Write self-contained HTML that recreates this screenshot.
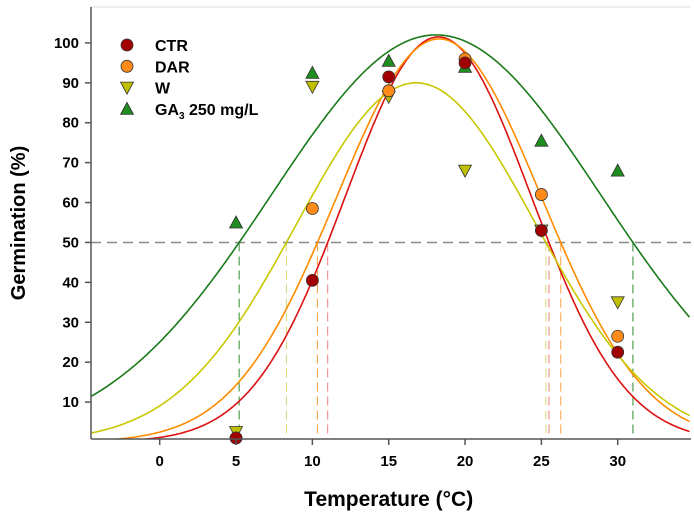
<!DOCTYPE html>
<html><head><meta charset="utf-8"><style>
body{margin:0;background:#fff;font-family:"Liberation Sans",Arial,sans-serif}
svg text{font-family:"Liberation Sans",Arial,sans-serif;font-weight:bold}
</style></head><body>
<svg id="chart" width="694" height="525" xmlns="http://www.w3.org/2000/svg"></svg>
<script>
const temps=[5,10,15,20,25,30];
const ctrVals=[1,40.5,91.5,95,53,22.5];
const darVals=[1,58.5,88,96,62,26.5];
const wVals=[2.5,89,86.5,68,53,35];
const gaVals=[55,92.5,95.5,94,75.5,68];
// gaussian fit params [peak, center, width]
const ctrFit=[101.5,18.25,6.09];
const darFit=[101,18.3,6.72];
const wFit=[90,16.8,7.84];
const gaFit=[102,18.1,10.8];
const xTicks=[0,5,10,15,20,25,30];
const yTicks=[10,20,30,40,50,60,70,80,90,100];
const NS="http://www.w3.org/2000/svg";
const svg=document.getElementById('chart');
const L=91,R=691,T=7,B=439,x0=-4.5,x1=34.8,y0=0.75,y1=109;
const X=v=>L+(v-x0)/(x1-x0)*(R-L);
const Y=v=>B-(v-y0)/(y1-y0)*(B-T);
function el(t,a,p){const e=document.createElementNS(NS,t);for(const k in a)e.setAttribute(k,a[k]);(p||svg).appendChild(e);return e;}
const g=a=>x=>a[0]*Math.exp(-0.5*Math.pow((x-a[1])/a[2],2));
const cross=a=>{const d=a[2]*Math.sqrt(-2*Math.log(50/a[0]));return [a[1]-d,a[1]+d];};
const series=[
 {name:'ctr',vals:ctrVals,fit:ctrFit,col:'#dd1111',fill:'#a00000',dash:'#f08080',m:'c'},
 {name:'dar',vals:darVals,fit:darFit,col:'#ff8c00',fill:'#ff8c1a',dash:'#ffa040',m:'c'},
 {name:'w',vals:wVals,fit:wFit,col:'#c8c800',fill:'#c0c000',dash:'#d8d870',m:'d'},
 {name:'ga3',vals:gaVals,fit:gaFit,col:'#1a7a1a',fill:'#1e8c1e',dash:'#2e8b2e',m:'u'}];
el('line',{x1:L,x2:R,y1:T,y2:T,stroke:'#ddd','stroke-width':1});
let h=el('line',{x1:L,x2:R,y1:Y(50),y2:Y(50),stroke:'#888','stroke-width':1.5,'stroke-dasharray':'10,6'});


series.forEach(s=>{
 cross(s.fit).forEach(c=>{
  const l=el('line',{x1:X(c),x2:X(c),y1:Y(50),y2:B,stroke:s.dash,'stroke-width':1,'stroke-dasharray':'9,5'});
  
  
 });
});
const clip=el('clipPath',{id:'pc'});el('rect',{x:L,y:T,width:R-L,height:B-T},clip);
series.forEach(s=>{
 const f=g(s.fit);let d='';
 for(let x=x0;x<=x1;x+=0.1){d+=(d?'L':'M')+X(x).toFixed(1)+','+Y(f(x)).toFixed(1);}
 const p=el('path',{d:d,fill:'none',stroke:s.col,'stroke-width':1.6,'clip-path':'url(#pc)'});
 
 
});
function marker(m,cx,cy,fill,parent){
 if(m==='c')return el('circle',{cx:cx,cy:cy,r:6,fill:fill,stroke:'#333','stroke-width':0.8},parent);
 if(m==='d')return el('polygon',{points:`${cx-6.5},${cy-5.5} ${cx+6.5},${cy-5.5} ${cx},${cy+6.5}`,fill:fill,stroke:'#333','stroke-width':0.8},parent);
 return el('polygon',{points:`${cx-6.5},${cy+5.5} ${cx+6.5},${cy+5.5} ${cx},${cy-6.5}`,fill:fill,stroke:'#333','stroke-width':0.8},parent);
}
[series[3],series[2],series[1],series[0]].forEach(s=>{
 s.vals.forEach((v,i)=>{
  const mk=marker(s.m,X(temps[i]),Y(v),s.fill);
  
  
 });
});
el('line',{x1:L,x2:L,y1:T,y2:B,stroke:'#555','stroke-width':1.5});
el('line',{x1:L,x2:R,y1:B,y2:B,stroke:'#555','stroke-width':1.5});
xTicks.forEach(t=>{
 el('line',{x1:X(t),x2:X(t),y1:B,y2:B+6,stroke:'#555','stroke-width':1.5});
 const tx=el('text',{x:X(t),y:B+27,'text-anchor':'middle','font-size':15});tx.textContent=t;
 
 
});
yTicks.forEach(t=>{
 el('line',{x1:L-6,x2:L,y1:Y(t),y2:Y(t),stroke:'#555','stroke-width':1.5});
 const tx=el('text',{x:L-12,y:Y(t)+5,'text-anchor':'end','font-size':15});tx.textContent=t;
 
 
});
const xt=el('text',{x:X(15),y:506,'text-anchor':'middle','font-size':21});xt.textContent='Temperature (°C)';


const yt=el('text',{x:0,y:0,'text-anchor':'middle','font-size':20,transform:`translate(25,${(T+B)/2}) rotate(-90)`});yt.textContent='Germination (%)';


const labels=['CTR','DAR','W','GA'];
series.forEach((s,i)=>{
 const y=45+i*21.3;
 const lg=el('g',{});
 
 
 marker(s.m,127,y,s.fill,lg);
 const tx=el('text',{x:155,y:y+6,'font-size':16},lg);
 if(i<3)tx.textContent=labels[i];
 else{tx.textContent='GA';const sb=el('tspan',{'font-size':10,dy:4},tx);sb.textContent='3';const r=el('tspan',{dy:-4},tx);r.textContent=' 250 mg/L';}
});
</script>
</body></html>
